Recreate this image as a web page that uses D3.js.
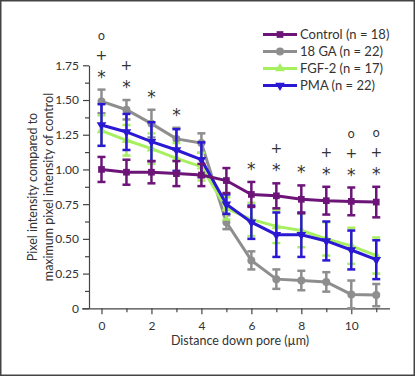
<!DOCTYPE html>
<html>
<head>
<meta charset="utf-8">
<script src="https://cdn.jsdelivr.net/npm/d3@7"></script>
<style>
  body { margin: 0; background: #fff; }
  svg { display: block; font-family: "Lato", "Liberation Sans", sans-serif; }
  .axis path, .axis line { stroke: #444; stroke-width: 1.2; }
  .axis text { fill: #333; font-size: 12px; font-family: "Lato", "Liberation Sans", sans-serif; }
</style>
</head>
<body>
<svg id="chart" width="415" height="376"></svg>
<script>
// distance down the pore (µm)
const distances = [0, 1, 2, 3, 4, 5, 6, 7, 8, 9, 10, 11];

const controlMean = [1.00, 0.98, 0.98, 0.97, 0.96, 0.92, 0.82, 0.81, 0.785, 0.775, 0.77, 0.765];
const controlErr  = [0.09, 0.09, 0.08, 0.09, 0.08, 0.09, 0.09, 0.09, 0.10, 0.10, 0.10, 0.11];

const gaMean = [1.49, 1.43, 1.33, 1.22, 1.19, 0.62, 0.345, 0.21, 0.20, 0.19, 0.10, 0.095];
const gaErr  = [0.085, 0.07, 0.10, 0.08, 0.07, 0.05, 0.065, 0.07, 0.07, 0.07, 0.10, 0.08];

const fgfMean = [1.28, 1.21, 1.15, 1.08, 1.02, 0.72, 0.64, 0.59, 0.56, 0.50, 0.45, 0.38];
const fgfErr  = [0.11, 0.11, 0.11, 0.11, 0.10, 0.08, 0.12, 0.12, 0.12, 0.12, 0.13, 0.13];

const pmaMean = [1.32, 1.27, 1.20, 1.14, 1.07, 0.75, 0.62, 0.53, 0.53, 0.485, 0.42, 0.35];
const pmaErr  = [0.15, 0.13, 0.14, 0.15, 0.125, 0.07, 0.12, 0.16, 0.16, 0.14, 0.14, 0.14];

const seriesNames = ["Control (n = 18)", "18 GA (n = 22)", "FGF-2 (n = 17)", "PMA (n = 22)"];

// significance marks above each distance (bottom to top)
const sigDistances = [0, 1, 2, 3, 6, 7, 8, 9, 10, 11];
const sigMarks = [["*", "+", "o"], ["*", "+"], ["*"], ["*"], ["*"], ["*", "+"], ["*"], ["*", "+"], ["*", "+", "o"], ["*", "+", "o"]];

const yTicksMajor = [0, 0.25, 0.5, 0.75, 1.0, 1.25, 1.5, 1.75];
const yTicksMinor = [0.125, 0.375, 0.625, 0.875, 1.125, 1.375, 1.625];
const xTicksMajor = [0, 2, 4, 6, 8, 10];
const xTicksMinor = [1, 3, 5, 7, 9, 11];

const svg = d3.select("#chart");
const width = +svg.attr("width");
const height = +svg.attr("height");

// frame round the figure
svg.append("rect")
    .attr("x", 0.75).attr("y", 0.75)
    .attr("width", width - 1.5).attr("height", height - 1.5)
    .attr("fill", "none").attr("stroke", "#444").attr("stroke-width", 1.5);

const x = d3.scaleLinear().domain([-0.5, 11.55]).range([89, 390]);
const y = d3.scaleLinear().domain([0, 1.75]).range([308.3, 65.3]);

// y axis
svg.append("g").attr("class", "axis")
    .attr("transform", "translate(89,0)")
    .call(d3.axisLeft(y).tickValues(yTicksMinor).tickSize(4).tickFormat(""))
    .call(g => g.select(".domain").remove());
svg.append("g").attr("class", "axis")
    .attr("transform", "translate(89,0)")
    .call(d3.axisLeft(y).tickValues(yTicksMajor).tickSize(6).tickSizeOuter(0)
        .tickFormat(d => d === 0 ? "0" : d3.format(".2f")(d)))
    .call(g => g.selectAll("text").attr("dx", "-1"));

// x axis
svg.append("g").attr("class", "axis")
    .attr("transform", "translate(0,308.3)")
    .call(d3.axisBottom(x).tickValues(xTicksMinor).tickSize(4).tickFormat(""))
    .call(g => g.select(".domain").remove());
svg.append("g").attr("class", "axis")
    .attr("transform", "translate(0,308.3)")
    .call(d3.axisBottom(x).tickValues(xTicksMajor).tickSize(6).tickSizeOuter(0))
    .call(g => g.select(".domain").attr("d", "M82,0.5H390"))
    .call(g => g.selectAll("text").attr("dy", "1.05em"));

// axis titles
svg.append("text")
    .attr("transform", "translate(37,187) rotate(-90)")
    .attr("text-anchor", "middle")
    .attr("font-size", 12.5).attr("fill", "#333")
    .text("Pixel intensity compared to");
svg.append("text")
    .attr("transform", "translate(53,187) rotate(-90)")
    .attr("text-anchor", "middle")
    .attr("font-size", 12.5).attr("fill", "#333")
    .text("maximum pixel intensity of control");
svg.append("text")
    .attr("x", 240).attr("y", 345)
    .attr("text-anchor", "middle")
    .attr("font-size", 12.5).attr("fill", "#333")
    .text("Distance down pore (µm)");

const series = [
    { name: seriesNames[1], mean: gaMean, err: gaErr, color: "#8e8e8e", shape: d3.symbolCircle, size: 50, rot: 0 },
    { name: seriesNames[2], mean: fgfMean, err: fgfErr, color: "#a6f060", shape: d3.symbolTriangle, size: 40, rot: 0 },
    { name: seriesNames[3], mean: pmaMean, err: pmaErr, color: "#2a18d2", shape: d3.symbolTriangle, size: 40, rot: 180 },
    { name: seriesNames[0], mean: controlMean, err: controlErr, color: "#6c1478", shape: d3.symbolSquare, size: 45, rot: 0 }
];

const line = d3.line()
    .x((d, i) => x(distances[i]))
    .y(d => y(d));

series.forEach(s => {
    const g = svg.append("g");
    // error bars
    const eb = g.selectAll("g.err")
        .data(distances)
        .enter()
        .append("g");
    eb.append("line")
        .attr("x1", d => x(d)).attr("x2", d => x(d))
        .attr("y1", (d, i) => y(s.mean[i] - s.err[i]))
        .attr("y2", (d, i) => y(s.mean[i] + s.err[i]))
        .attr("stroke", s.color).attr("stroke-width", 2.5);
    [-1, 1].forEach(sign => {
        eb.append("line")
            .attr("x1", d => x(d) - 4).attr("x2", d => x(d) + 4)
            .attr("y1", (d, i) => y(s.mean[i] + sign * s.err[i]))
            .attr("y2", (d, i) => y(s.mean[i] + sign * s.err[i]))
            .attr("stroke", s.color).attr("stroke-width", 2.5);
    });
    // line
    g.append("path")
        .datum(s.mean)
        .attr("d", line)
        .attr("fill", "none")
        .attr("stroke", s.color)
        .attr("stroke-width", 3);
    // markers
    g.selectAll("path.mark")
        .data(s.mean)
        .enter()
        .append("path")
        .attr("d", d3.symbol().type(s.shape).size(s.size))
        .attr("transform", (d, i) => `translate(${x(distances[i])},${y(d)}) rotate(${s.rot})`)
        .attr("fill", s.color);
});

// significance marks, stacked above the highest error bar
const markStyle = {
    "*": { size: 17, lift: 17.5, base: 0.62 },
    "+": { size: 14, lift: 35, base: 0.36 },
    "o": { size: 12, lift: 53, base: 0.27 }
};
sigDistances.forEach((dist, k) => {
    const i = distances.indexOf(dist);
    const top = d3.max(series, s => s.mean[i] + s.err[i]);
    sigMarks[k].forEach(m => {
        const st = markStyle[m];
        svg.append("text")
            .attr("x", x(dist))
            .attr("y", y(top) - st.lift + st.base * st.size)
            .attr("text-anchor", "middle")
            .attr("font-family", "DejaVu Sans")
            .attr("font-size", st.size)
            .attr("fill", "#333")
            .text(m);
    });
});

// legend
const legendOrder = [3, 0, 1, 2];
const legend = svg.selectAll("g.legend")
    .data(legendOrder.map(k => series[k]))
    .enter()
    .append("g")
    .attr("transform", (d, i) => `translate(263,${34.5 + i * 17})`);
legend.append("line")
    .attr("x1", 0).attr("x2", 34)
    .attr("stroke", d => d.color).attr("stroke-width", 3);
legend.append("path")
    .attr("d", d => d3.symbol().type(d.shape).size(d.size)())
    .attr("transform", d => `translate(17,0) rotate(${d.rot})`)
    .attr("fill", d => d.color);
legend.append("text")
    .attr("x", 37).attr("dy", "0.35em")
    .attr("font-size", 13).attr("fill", "#333")
    .text(d => d.name);
</script>
</body>
</html>
